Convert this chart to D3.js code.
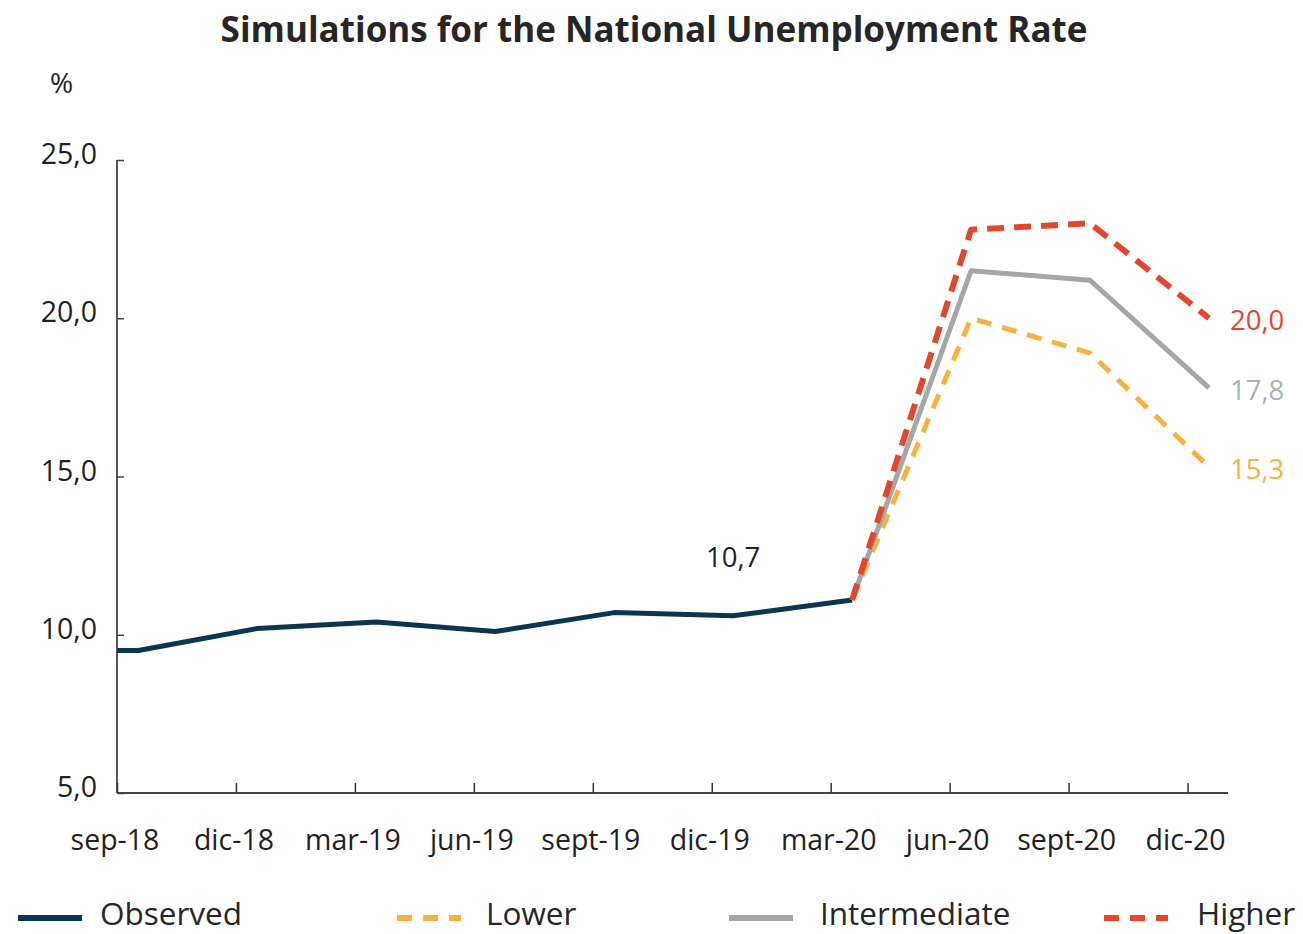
<!DOCTYPE html>
<html>
<head>
<meta charset="utf-8">
<script src="https://cdn.jsdelivr.net/npm/d3@7"></script>
<style>
  body { margin: 0; background: #fff; }
  text { font-family: "Open Sans", sans-serif; }
</style>
</head>
<body>
<script>
// quarters on the x axis
const quarters = ["sep-18", "dic-18", "mar-19", "jun-19", "sept-19", "dic-19", "mar-20", "jun-20", "sept-20", "dic-20"];

// observed rate, sep-18 .. mar-20
const observed = [9.5, 10.2, 10.4, 10.1, 10.7, 10.6, 11.1];

// scenarios, mar-20 .. dic-20
const scenarioQuarters = ["mar-20", "jun-20", "sept-20", "dic-20"];
const lower = [11.1, 20.0, 18.9, 15.3];
const intermediate = [11.1, 21.5, 21.2, 17.8];
const higher = [11.1, 22.8, 23.0, 20.0];

const yTicks = [5, 10, 15, 20, 25];

const width = 1303;
const height = 934;

const navy = "#0b3651";
const orange = "#f8b13f";
const gray = "#a4a7a9";
const red = "#e2472c";

const fmt = v => d3.format(".1f")(v).replace(".", ",");

const svg = d3.select("body")
    .append("svg")
    .attr("width", width)
    .attr("height", height);

// ticks sit on whole quarter indexes, the data points a bit to the right of them
const pointOffset = 0.18;
const x = d3.scaleLinear()
    .domain([0, 9.34])
    .range([117, 1228]);
const y = d3.scaleLinear()
    .domain([5, 25])
    .range([793, 160]);

const qx = q => x(quarters.indexOf(q) + pointOffset);

// title
svg.append("text")
    .attr("x", 654)
    .attr("y", 42)
    .attr("text-anchor", "middle")
    .attr("font-size", 35)
    .attr("font-weight", "bold")
    .attr("fill", "#262626")
    .text("Simulations for the National Unemployment Rate");

svg.append("text")
    .attr("x", 50)
    .attr("y", 93)
    .attr("font-size", 28)
    .attr("fill", "#231f20")
    .text("%");

// y axis
const yAxis = svg.append("g")
    .attr("transform", `translate(${x(0)},0)`)
    .call(d3.axisRight(y).tickValues(yTicks).tickSize(7).tickFormat(""));
yAxis.select(".domain").attr("stroke", "#555").attr("stroke-width", 2).attr("d", `M0,${y(25)}V${y(5)}`);
yAxis.selectAll(".tick line").attr("stroke", "#444").attr("stroke-width", 1.5);

svg.append("g")
    .selectAll("text")
    .data(yTicks)
    .enter().append("text")
    .attr("x", 97)
    .attr("y", d => y(d) + 4)
    .attr("text-anchor", "end")
    .attr("font-size", 28.5)
    .attr("fill", "#231f20")
    .text(d => fmt(d));

// x axis
const xAxis = svg.append("g")
    .attr("transform", `translate(0,${y(5)})`)
    .call(d3.axisTop(x).tickValues(d3.range(quarters.length)).tickSize(10).tickFormat(""));
xAxis.select(".domain").attr("stroke", "#444").attr("stroke-width", 2).attr("d", `M${x(0)},0H${x(9.34)}`);
xAxis.selectAll(".tick line").attr("stroke", "#333").attr("stroke-width", 1.5);

svg.append("g")
    .selectAll("text")
    .data(quarters)
    .enter().append("text")
    .attr("x", (d, i) => x(i) - 2)
    .attr("y", 850)
    .attr("text-anchor", "middle")
    .attr("font-size", 28.5)
    .attr("fill", "#231f20")
    .text(d => d);

// lines
const line = d3.line()
    .x(d => d[0])
    .y(d => y(d[1]));

// observed starts flat at the axis
const obsPts = [[x(0), observed[0]]].concat(observed.map((v, i) => [qx(quarters[i]), v]));
svg.append("path")
    .attr("d", line(obsPts))
    .attr("fill", "none")
    .attr("stroke", navy)
    .attr("stroke-width", 5)
    .attr("stroke-linejoin", "round");

const scenarios = [
    { name: "Lower", values: lower, color: orange, dash: "15,11", w: 5 },
    { name: "Intermediate", values: intermediate, color: gray, dash: null, w: 5 },
    { name: "Higher", values: higher, color: red, dash: "17,10", w: 6 }
];

scenarios.forEach(s => {
    const pts = s.values.map((v, i) => [qx(scenarioQuarters[i]), v]);
    svg.append("path")
        .attr("d", line(pts))
        .attr("fill", "none")
        .attr("stroke", s.color)
        .attr("stroke-width", s.w)
        .attr("stroke-dasharray", s.dash)
        .attr("stroke-linejoin", "round");

    const last = s.values[s.values.length - 1];
    svg.append("text")
        .attr("x", qx("dic-20") + 21)
        .attr("y", y(last) + 12)
        .attr("font-size", 27.5)
        .attr("fill", s.color === gray ? "#a9b0b7" : s.color)
        .text(fmt(last));
});

// annotation
svg.append("text")
    .attr("x", qx("dic-19"))
    .attr("y", y(observed[5]) - 49)
    .attr("text-anchor", "middle")
    .attr("font-size", 27.5)
    .attr("fill", "#231f20")
    .text(fmt(10.7));

// legend
const legend = [
    { name: "Observed", color: navy, dash: null, x1: 18, tx: 100 },
    { name: "Lower", color: orange, dash: "15,11", x1: 397, tx: 486 },
    { name: "Intermediate", color: gray, dash: null, x1: 729, tx: 820 },
    { name: "Higher", color: red, dash: "15,11", x1: 1104, tx: 1197 }
];

const lg = svg.append("g");
legend.forEach(l => {
    lg.append("line")
        .attr("x1", l.x1)
        .attr("x2", l.x1 + 64)
        .attr("y1", 918)
        .attr("y2", 918)
        .attr("stroke", l.color)
        .attr("stroke-width", 6)
        .attr("stroke-dasharray", l.dash);
    lg.append("text")
        .attr("x", l.tx)
        .attr("y", 925)
        .attr("font-size", 31.5)
        .attr("fill", "#262626")
        .text(l.name);
});
</script>
</body>
</html>
